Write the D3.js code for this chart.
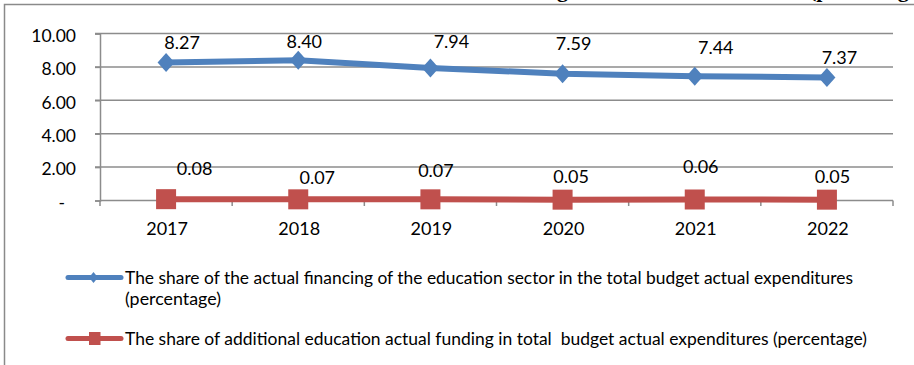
<!DOCTYPE html>
<html>
<head>
<meta charset="utf-8">
<script src="https://cdn.jsdelivr.net/npm/d3@7"></script>
<style>
  html, body { margin: 0; padding: 0; background: #fff; }
  svg { display: block; }
  text { font-family: Lato, "Open Sans", sans-serif; fill: #000; }
</style>
</head>
<body>
<svg id="chart" width="914" height="365"></svg>
<script>
// Years on the category axis
const years = ["2017", "2018", "2019", "2020", "2021", "2022"];
// Share of actual education financing in total budget actual expenditures (%)
const educationShare = [8.27, 8.40, 7.94, 7.59, 7.44, 7.37];
// Share of additional education actual funding in total budget actual expenditures (%)
const additionalShare = [0.08, 0.07, 0.07, 0.05, 0.06, 0.05];
// Value axis ticks
const yTicks = [0, 2, 4, 6, 8, 10];
// Legend entries
const seriesNames = [
  "The share of the actual financing of the education sector in the total budget actual expenditures",
  "(percentage)",
  "The share of additional education actual funding in total  budget actual expenditures (percentage)"
];

// Hand-placed data label offsets (px from each point to label centre/baseline)
const eduLabelOffsets = [[16, -13], [6, -12.5], [21, -19.5], [11, -23.5], [21, -22], [12.5, -13]];
const addLabelOffsets = [[28.5, -24], [19, -15], [5.5, -22], [8.5, -17], [6, -26], [5.5, -17]];

const blue = "#4F81BD";
const red = "#C0504D";
const gridColor = "#8c8c8c";

const svg = d3.select("#chart");

// Title runs above the visible frame; only its descenders reach into view
const titleStyle = sel => sel
  .style("font-family", "'Liberation Serif', serif")
  .style("font-weight", "bold").style("font-size", "22px");
svg.append("text")
  .attr("x", 568).attr("y", -3)
  .attr("text-anchor", "end")
  .call(titleStyle)
  .text("Shares of the education financing");
svg.append("text")
  .attr("x", 809).attr("y", -3)
  .call(titleStyle)
  .text("(percentage)");

// Outer frame (left and top edges)
svg.append("path")
  .attr("d", "M4.5,365V4.5H914")
  .attr("fill", "none").attr("stroke", "#8a8a8a").attr("stroke-width", 1.5);

const x = d3.scaleBand().domain(years).range([100, 893]);
const y = d3.scaleLinear().domain([0, 10]).range([200.5, 33.5]);
const cx = d => x(d) + x.bandwidth() / 2;

// Horizontal gridlines (extending left as tick marks)
svg.append("g").selectAll("line")
  .data(yTicks.filter(t => t > 0))
  .join("line")
  .attr("x1", 95).attr("x2", 893)
  .attr("y1", d => y(d)).attr("y2", d => y(d))
  .attr("stroke", gridColor).attr("stroke-width", 1.5);

// Y axis
const yAxis = d3.axisLeft(y)
  .tickValues(yTicks)
  .tickSize(5)
  .tickPadding(19)
  .tickFormat(d => d === 0 ? "-" : d3.format(".2f")(d));
const gy = svg.append("g").attr("transform", "translate(100,0)").call(yAxis);
gy.select(".domain").attr("stroke", gridColor).attr("stroke-width", 1.5);
gy.selectAll(".tick line").attr("stroke", gridColor).attr("stroke-width", 1.5);
gy.selectAll(".tick text")
  .style("font-size", "17.5px").style("font-family", "Lato, sans-serif")
  .attr("fill", "#000")
  .attr("dx", d => d === 0 ? -11 : 0)
  .attr("dy", "0.45em");

// X axis with tick marks between categories
const gx = svg.append("g").attr("transform", "translate(0,200.5)");
gx.append("line").attr("x1", 100).attr("x2", 893)
  .attr("stroke", gridColor).attr("stroke-width", 1.5);
const boundaries = years.map(d => x(d)).concat([x(years[years.length - 1]) + x.bandwidth()]);
gx.selectAll("line.tk").data(boundaries).join("line").attr("class", "tk")
  .attr("x1", d => d).attr("x2", d => d).attr("y1", 0).attr("y2", 5.5)
  .attr("stroke", gridColor).attr("stroke-width", 1.5);
gx.selectAll("text").data(years).join("text")
  .attr("x", d => cx(d) + 1).attr("y", 34.5)
  .attr("text-anchor", "middle")
  .style("font-size", "18px")
  .text(d => d);

const line = d3.line().x((d, i) => cx(years[i])).y(d => y(d));

// Education financing series
svg.append("path").datum(educationShare)
  .attr("d", line).attr("fill", "none")
  .attr("stroke", blue).attr("stroke-width", 6).attr("stroke-linejoin", "round");
svg.append("g").selectAll("path").data(educationShare).join("path")
  .attr("transform", (d, i) => `translate(${cx(years[i])},${y(d)})`)
  .attr("d", "M0,-9.5L8.5,0L0,9.5L-8.5,0Z")
  .attr("fill", blue);

// Additional education funding series
svg.append("path").datum(additionalShare)
  .attr("d", line).attr("fill", "none")
  .attr("stroke", red).attr("stroke-width", 6);
svg.append("g").selectAll("rect").data(additionalShare).join("rect")
  .attr("x", (d, i) => cx(years[i]) - 10).attr("y", d => y(d) - 10)
  .attr("width", 20).attr("height", 20)
  .attr("fill", red);

// Data labels
const fmt = d3.format(".2f");
svg.append("g").selectAll("text").data(educationShare).join("text")
  .attr("x", (d, i) => cx(years[i]) + eduLabelOffsets[i][0])
  .attr("y", (d, i) => y(d) + eduLabelOffsets[i][1])
  .attr("text-anchor", "middle")
  .style("font-size", "18px")
  .text(d => fmt(d));
svg.append("g").selectAll("text").data(additionalShare).join("text")
  .attr("x", (d, i) => cx(years[i]) + addLabelOffsets[i][0])
  .attr("y", (d, i) => y(d) + addLabelOffsets[i][1])
  .attr("text-anchor", "middle")
  .style("font-size", "18px")
  .text(d => fmt(d));

// Legend
const legend = svg.append("g");
// entry 1
legend.append("line").attr("x1", 68).attr("x2", 121).attr("y1", 277.5).attr("y2", 277.5)
  .attr("stroke", blue).attr("stroke-width", 5).attr("stroke-linecap", "round");
legend.append("path").attr("transform", "translate(93.5,277.5)")
  .attr("d", "M0,-5.5L4.5,0L0,5.5L-4.5,0Z").attr("fill", blue);
legend.append("text").attr("x", 125).attr("y", 283.5)
  .attr("textLength", 728).attr("lengthAdjust", "spacingAndGlyphs")
  .style("font-size", "16.5px").text(seriesNames[0]);
legend.append("text").attr("x", 125).attr("y", 304.5)
  .attr("textLength", 96).attr("lengthAdjust", "spacingAndGlyphs")
  .style("font-size", "16.5px").text(seriesNames[1]);
// entry 2
legend.append("line").attr("x1", 68).attr("x2", 121).attr("y1", 338.5).attr("y2", 338.5)
  .attr("stroke", red).attr("stroke-width", 5).attr("stroke-linecap", "round");
legend.append("rect").attr("x", 89).attr("y", 332).attr("width", 11.5).attr("height", 13)
  .attr("fill", red);
legend.append("text").attr("x", 125).attr("y", 344.5)
  .attr("textLength", 742).attr("lengthAdjust", "spacingAndGlyphs")
  .style("font-size", "16.5px").style("white-space", "pre")
  .text(seriesNames[2]);
</script>
</body>
</html>
